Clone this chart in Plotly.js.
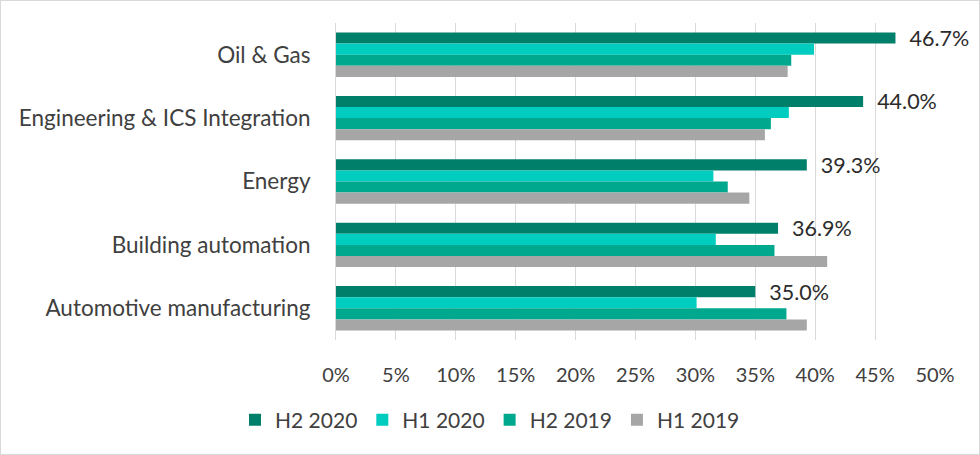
<!DOCTYPE html>
<html><head><meta charset="utf-8">
<script src="https://cdn.plot.ly/plotly-3.0.1.min.js"></script>
<style>html,body{margin:0;padding:0;background:#fff}#c{width:980px;height:455px;box-sizing:border-box;border:1px solid #d9d9d9}</style>
</head><body><div id="c"></div>
<script>
const categories = ["Oil & Gas","Engineering & ICS Integration","Energy","Building automation","Automotive manufacturing"];
const seriesNames = ["H2 2020","H1 2020","H2 2019","H1 2019"];
const h2_2020 = [46.7, 44.0, 39.3, 36.9, 35.0];
const h1_2020 = [39.9, 37.8, 31.5, 31.7, 30.1];
const h2_2019 = [38.0, 36.3, 32.7, 36.6, 37.6];
const h1_2019 = [37.7, 35.8, 34.5, 41.0, 39.3];
const tickVals = [0,5,10,15,20,25,30,35,40,45,50];
const tickText = tickVals.map(v => v + "%");

const colors = ["#007F6B","#00CCC0","#00A88E","#A6A6A6"];
const values = [h2_2020, h1_2020, h2_2019, h1_2019];
const FONT = "Lato, 'Open Sans', sans-serif";

const traces = values.map((vals, i) => {
  const t = {
    type: "bar", orientation: "h", name: seriesNames[i],
    y: categories, x: vals,
    marker: {color: colors[i]},
    hoverinfo: "x+y"
  };
  if (i === 0) {
    t.text = vals.map(v => "\u00A0\u00A0" + v.toFixed(1) + "%");
    t.textposition = "outside";
    t.textfont = {family: FONT, size: 21.5, color: "#2b2b2b"};
    t.cliponaxis = false;
    t.constraintext = "none";
  }
  return t;
});

const layout = {
  width: 978, height: 453,
  margin: {l: 335, r: 44, t: 22, b: 114},
  barmode: "group", bargap: 0.3, bargroupgap: 0,
  paper_bgcolor: "#fff", plot_bgcolor: "#fff",
  font: {family: FONT, size: 20, color: "#404040"},
  xaxis: {
    range: [0, 50], tickvals: tickVals, ticktext: tickText,
    showgrid: true, gridcolor: "#d9d9d9", gridwidth: 1, zeroline: false,
    ticks: "outside", ticklen: 17, tickcolor: "rgba(0,0,0,0)",
    tickfont: {family: FONT, size: 20, color: "#404040"}, fixedrange: true
  },
  yaxis: {
    autorange: "reversed", type: "category",
    showline: true, linecolor: "#d9d9d9", linewidth: 1,
    ticks: "outside", ticklen: 20, tickcolor: "rgba(0,0,0,0)",
    tickfont: {family: FONT, size: 22.5, color: "#404040"}, fixedrange: true
  },
  showlegend: true,
  legend: {
    orientation: "h", xref: "container", yref: "container",
    x: 0.5, xanchor: "center", y: 0.075, yanchor: "middle",
    font: {family: FONT, size: 21, color: "#404040"},
    traceorder: "normal", itemwidth: 30
  }
};
Plotly.newPlot("c", traces, layout, {displayModeBar: false, staticPlot: true});
</script></body></html>
